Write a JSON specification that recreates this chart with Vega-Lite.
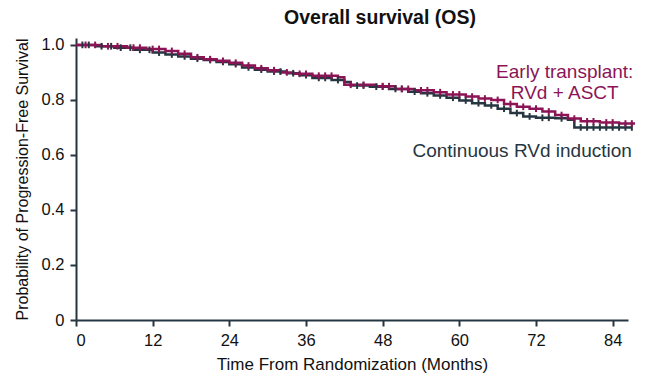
{
  "$schema": "https://vega.github.io/schema/vega-lite/v6.json",
  "autosize": "none",
  "padding": {"left": 76, "top": 38, "right": 18, "bottom": 55},
  "width": 552,
  "height": 282,
  "background": "white",
  "config": {"view": {"stroke": null}, "font": "Liberation Sans"},
  "title": {"text": "Overall survival (OS)", "fontSize": 19.5, "fontWeight": "bold", "font": "Liberation Sans", "color": "#111", "anchor": "middle", "dx": 28, "offset": 8},
  "datasets": {
    "curves": [
      {"group": "Continuous RVd induction", "t": 0, "s": 1.0},
      {"group": "Continuous RVd induction", "t": 3, "s": 0.995},
      {"group": "Continuous RVd induction", "t": 6, "s": 0.99},
      {"group": "Continuous RVd induction", "t": 9, "s": 0.982},
      {"group": "Continuous RVd induction", "t": 12, "s": 0.972},
      {"group": "Continuous RVd induction", "t": 14, "s": 0.965},
      {"group": "Continuous RVd induction", "t": 16, "s": 0.958},
      {"group": "Continuous RVd induction", "t": 18, "s": 0.95},
      {"group": "Continuous RVd induction", "t": 20, "s": 0.945},
      {"group": "Continuous RVd induction", "t": 22, "s": 0.938},
      {"group": "Continuous RVd induction", "t": 24, "s": 0.93},
      {"group": "Continuous RVd induction", "t": 26, "s": 0.918},
      {"group": "Continuous RVd induction", "t": 28, "s": 0.91},
      {"group": "Continuous RVd induction", "t": 30, "s": 0.903},
      {"group": "Continuous RVd induction", "t": 33, "s": 0.897},
      {"group": "Continuous RVd induction", "t": 35, "s": 0.89},
      {"group": "Continuous RVd induction", "t": 37, "s": 0.88},
      {"group": "Continuous RVd induction", "t": 40, "s": 0.872},
      {"group": "Continuous RVd induction", "t": 42, "s": 0.865},
      {"group": "Continuous RVd induction", "t": 43, "s": 0.852},
      {"group": "Continuous RVd induction", "t": 46, "s": 0.848},
      {"group": "Continuous RVd induction", "t": 49, "s": 0.84},
      {"group": "Continuous RVd induction", "t": 52, "s": 0.83},
      {"group": "Continuous RVd induction", "t": 54, "s": 0.824},
      {"group": "Continuous RVd induction", "t": 56, "s": 0.816},
      {"group": "Continuous RVd induction", "t": 58, "s": 0.808},
      {"group": "Continuous RVd induction", "t": 60, "s": 0.798},
      {"group": "Continuous RVd induction", "t": 62, "s": 0.788},
      {"group": "Continuous RVd induction", "t": 64, "s": 0.78},
      {"group": "Continuous RVd induction", "t": 66, "s": 0.768},
      {"group": "Continuous RVd induction", "t": 68, "s": 0.752},
      {"group": "Continuous RVd induction", "t": 70, "s": 0.74},
      {"group": "Continuous RVd induction", "t": 72, "s": 0.735},
      {"group": "Continuous RVd induction", "t": 75, "s": 0.733},
      {"group": "Continuous RVd induction", "t": 77, "s": 0.728},
      {"group": "Continuous RVd induction", "t": 78, "s": 0.7},
      {"group": "Continuous RVd induction", "t": 87, "s": 0.7},
      {"group": "Early transplant", "t": 0, "s": 1.0},
      {"group": "Early transplant", "t": 4, "s": 0.995},
      {"group": "Early transplant", "t": 8, "s": 0.99},
      {"group": "Early transplant", "t": 11, "s": 0.985},
      {"group": "Early transplant", "t": 14, "s": 0.978},
      {"group": "Early transplant", "t": 16, "s": 0.968},
      {"group": "Early transplant", "t": 18, "s": 0.955},
      {"group": "Early transplant", "t": 20, "s": 0.948},
      {"group": "Early transplant", "t": 22, "s": 0.942},
      {"group": "Early transplant", "t": 24, "s": 0.935},
      {"group": "Early transplant", "t": 26, "s": 0.925},
      {"group": "Early transplant", "t": 28, "s": 0.915},
      {"group": "Early transplant", "t": 30, "s": 0.908},
      {"group": "Early transplant", "t": 32, "s": 0.9},
      {"group": "Early transplant", "t": 34, "s": 0.895},
      {"group": "Early transplant", "t": 37, "s": 0.888},
      {"group": "Early transplant", "t": 41, "s": 0.882},
      {"group": "Early transplant", "t": 42, "s": 0.855},
      {"group": "Early transplant", "t": 47, "s": 0.85},
      {"group": "Early transplant", "t": 50, "s": 0.84},
      {"group": "Early transplant", "t": 53, "s": 0.835},
      {"group": "Early transplant", "t": 56, "s": 0.828},
      {"group": "Early transplant", "t": 58, "s": 0.82},
      {"group": "Early transplant", "t": 61, "s": 0.812},
      {"group": "Early transplant", "t": 63, "s": 0.805},
      {"group": "Early transplant", "t": 65, "s": 0.8},
      {"group": "Early transplant", "t": 67, "s": 0.785},
      {"group": "Early transplant", "t": 69, "s": 0.775},
      {"group": "Early transplant", "t": 71, "s": 0.768},
      {"group": "Early transplant", "t": 73, "s": 0.758},
      {"group": "Early transplant", "t": 75, "s": 0.745},
      {"group": "Early transplant", "t": 77, "s": 0.732},
      {"group": "Early transplant", "t": 79, "s": 0.722},
      {"group": "Early transplant", "t": 82, "s": 0.718},
      {"group": "Early transplant", "t": 85, "s": 0.714},
      {"group": "Early transplant", "t": 87.5, "s": 0.714}
    ],
    "censors": [
      {"group": "Continuous RVd induction", "t": 1, "s": 1.0},
      {"group": "Continuous RVd induction", "t": 2, "s": 1.0},
      {"group": "Continuous RVd induction", "t": 4, "s": 0.995},
      {"group": "Continuous RVd induction", "t": 5.5, "s": 0.995},
      {"group": "Continuous RVd induction", "t": 7, "s": 0.99},
      {"group": "Continuous RVd induction", "t": 8.5, "s": 0.99},
      {"group": "Continuous RVd induction", "t": 10, "s": 0.982},
      {"group": "Continuous RVd induction", "t": 11.5, "s": 0.982},
      {"group": "Continuous RVd induction", "t": 13, "s": 0.972},
      {"group": "Continuous RVd induction", "t": 15, "s": 0.965},
      {"group": "Continuous RVd induction", "t": 17, "s": 0.958},
      {"group": "Continuous RVd induction", "t": 19, "s": 0.95},
      {"group": "Continuous RVd induction", "t": 21, "s": 0.945},
      {"group": "Continuous RVd induction", "t": 23, "s": 0.938},
      {"group": "Continuous RVd induction", "t": 25, "s": 0.93},
      {"group": "Continuous RVd induction", "t": 27, "s": 0.918},
      {"group": "Continuous RVd induction", "t": 29, "s": 0.91},
      {"group": "Continuous RVd induction", "t": 31, "s": 0.903},
      {"group": "Continuous RVd induction", "t": 32, "s": 0.903},
      {"group": "Continuous RVd induction", "t": 34, "s": 0.897},
      {"group": "Continuous RVd induction", "t": 36, "s": 0.89},
      {"group": "Continuous RVd induction", "t": 38, "s": 0.88},
      {"group": "Continuous RVd induction", "t": 39, "s": 0.88},
      {"group": "Continuous RVd induction", "t": 41, "s": 0.872},
      {"group": "Continuous RVd induction", "t": 44, "s": 0.852},
      {"group": "Continuous RVd induction", "t": 45, "s": 0.852},
      {"group": "Continuous RVd induction", "t": 47, "s": 0.848},
      {"group": "Continuous RVd induction", "t": 48, "s": 0.848},
      {"group": "Continuous RVd induction", "t": 50, "s": 0.84},
      {"group": "Continuous RVd induction", "t": 51, "s": 0.84},
      {"group": "Continuous RVd induction", "t": 53, "s": 0.83},
      {"group": "Continuous RVd induction", "t": 55, "s": 0.824},
      {"group": "Continuous RVd induction", "t": 57, "s": 0.816},
      {"group": "Continuous RVd induction", "t": 59, "s": 0.808},
      {"group": "Continuous RVd induction", "t": 61, "s": 0.798},
      {"group": "Continuous RVd induction", "t": 63, "s": 0.788},
      {"group": "Continuous RVd induction", "t": 65, "s": 0.78},
      {"group": "Continuous RVd induction", "t": 67, "s": 0.768},
      {"group": "Continuous RVd induction", "t": 69, "s": 0.752},
      {"group": "Continuous RVd induction", "t": 71, "s": 0.74},
      {"group": "Continuous RVd induction", "t": 73, "s": 0.735},
      {"group": "Continuous RVd induction", "t": 74, "s": 0.735},
      {"group": "Continuous RVd induction", "t": 76, "s": 0.733},
      {"group": "Continuous RVd induction", "t": 79, "s": 0.7},
      {"group": "Continuous RVd induction", "t": 80, "s": 0.7},
      {"group": "Continuous RVd induction", "t": 81, "s": 0.7},
      {"group": "Continuous RVd induction", "t": 82, "s": 0.7},
      {"group": "Continuous RVd induction", "t": 83, "s": 0.7},
      {"group": "Continuous RVd induction", "t": 84, "s": 0.7},
      {"group": "Continuous RVd induction", "t": 85, "s": 0.7},
      {"group": "Continuous RVd induction", "t": 86, "s": 0.7},
      {"group": "Continuous RVd induction", "t": 87, "s": 0.7},
      {"group": "Early transplant", "t": 1.5, "s": 1.0},
      {"group": "Early transplant", "t": 3, "s": 1.0},
      {"group": "Early transplant", "t": 5, "s": 0.995},
      {"group": "Early transplant", "t": 6.5, "s": 0.995},
      {"group": "Early transplant", "t": 9, "s": 0.99},
      {"group": "Early transplant", "t": 10, "s": 0.99},
      {"group": "Early transplant", "t": 12, "s": 0.985},
      {"group": "Early transplant", "t": 13, "s": 0.985},
      {"group": "Early transplant", "t": 15, "s": 0.978},
      {"group": "Early transplant", "t": 17, "s": 0.968},
      {"group": "Early transplant", "t": 19, "s": 0.955},
      {"group": "Early transplant", "t": 21, "s": 0.948},
      {"group": "Early transplant", "t": 23, "s": 0.942},
      {"group": "Early transplant", "t": 25, "s": 0.935},
      {"group": "Early transplant", "t": 27, "s": 0.925},
      {"group": "Early transplant", "t": 29, "s": 0.915},
      {"group": "Early transplant", "t": 31, "s": 0.908},
      {"group": "Early transplant", "t": 33, "s": 0.9},
      {"group": "Early transplant", "t": 35, "s": 0.895},
      {"group": "Early transplant", "t": 36, "s": 0.895},
      {"group": "Early transplant", "t": 38, "s": 0.888},
      {"group": "Early transplant", "t": 39, "s": 0.888},
      {"group": "Early transplant", "t": 40, "s": 0.888},
      {"group": "Early transplant", "t": 43, "s": 0.855},
      {"group": "Early transplant", "t": 45, "s": 0.855},
      {"group": "Early transplant", "t": 48, "s": 0.85},
      {"group": "Early transplant", "t": 49, "s": 0.85},
      {"group": "Early transplant", "t": 51, "s": 0.84},
      {"group": "Early transplant", "t": 52, "s": 0.84},
      {"group": "Early transplant", "t": 54, "s": 0.835},
      {"group": "Early transplant", "t": 55, "s": 0.835},
      {"group": "Early transplant", "t": 57, "s": 0.828},
      {"group": "Early transplant", "t": 59, "s": 0.82},
      {"group": "Early transplant", "t": 60, "s": 0.82},
      {"group": "Early transplant", "t": 62, "s": 0.812},
      {"group": "Early transplant", "t": 64, "s": 0.805},
      {"group": "Early transplant", "t": 66, "s": 0.8},
      {"group": "Early transplant", "t": 68, "s": 0.785},
      {"group": "Early transplant", "t": 70, "s": 0.775},
      {"group": "Early transplant", "t": 72, "s": 0.768},
      {"group": "Early transplant", "t": 74, "s": 0.758},
      {"group": "Early transplant", "t": 76, "s": 0.745},
      {"group": "Early transplant", "t": 78, "s": 0.732},
      {"group": "Early transplant", "t": 80, "s": 0.722},
      {"group": "Early transplant", "t": 81, "s": 0.722},
      {"group": "Early transplant", "t": 83, "s": 0.718},
      {"group": "Early transplant", "t": 84, "s": 0.718},
      {"group": "Early transplant", "t": 86, "s": 0.714},
      {"group": "Early transplant", "t": 87, "s": 0.714}
    ],
    "labelsE": [
      {"label": "Early transplant:", "t": 76.5, "s": 0.902, "group": "Early transplant"},
      {"label": "RVd + ASCT", "t": 76.5, "s": 0.825, "group": "Early transplant"}
    ],
    "labelsC": [
      {"label": "Continuous RVd induction", "t": 87, "s": 0.615, "group": "Continuous RVd induction"}
    ]
  },
  "layer": [
    {
      "data": {"name": "curves"},
      "mark": {"type": "line", "interpolate": "step-after", "strokeWidth": 2.5, "clip": false},
      "encoding": {
        "x": {"field": "t", "type": "quantitative",
          "scale": {"domain": [0, 86.4], "nice": false, "zero": false},
          "axis": {"values": [0, 12, 24, 36, 48, 60, 72, 84], "title": "Time From Randomization (Months)",
            "grid": false, "domainColor": "#263641", "domainWidth": 2, "tickColor": "#263641", "tickWidth": 2, "tickSize": 6,
            "labelFontSize": 16.5, "labelColor": "#111", "labelPadding": 6, "titleFontSize": 17, "titleFontWeight": "normal", "titleColor": "#111", "titlePadding": 8, "labelFont": "Liberation Sans", "titleFont": "Liberation Sans"}},
        "y": {"field": "s", "type": "quantitative",
          "scale": {"domain": [0, 1.025], "nice": false},
          "axis": {"values": [0, 0.2, 0.4, 0.6, 0.8, 1.0], "labelExpr": "datum.value == 0 ? '0' : format(datum.value, '.1f')",
            "title": "Probability of Progression-Free Survival",
            "grid": false, "domainColor": "#263641", "domainWidth": 2, "tickColor": "#263641", "tickWidth": 2, "tickSize": 6,
            "labelFontSize": 16.5, "labelColor": "#111", "labelPadding": 6, "titleFontSize": 16, "titleFontWeight": "normal", "titleColor": "#111", "titlePadding": 11, "labelFont": "Liberation Sans", "titleFont": "Liberation Sans"}},
        "color": {"field": "group", "type": "nominal", "legend": null,
          "scale": {"domain": ["Early transplant", "Continuous RVd induction"], "range": ["#8c1456", "#263641"]}},
        "order": {"field": "t", "type": "quantitative"}
      }
    },
    {
      "data": {"name": "censors"},
      "mark": {"type": "point", "shape": "M0,-1L0,1", "filled": false, "size": 45, "strokeWidth": 2, "opacity": 1, "clip": false},
      "encoding": {
        "x": {"field": "t", "type": "quantitative"},
        "y": {"field": "s", "type": "quantitative"},
        "color": {"field": "group", "type": "nominal", "legend": null}
      }
    },
    {
      "data": {"name": "labelsE"},
      "mark": {"type": "text", "fontSize": 19, "font": "Liberation Sans", "baseline": "middle", "align": "center"},
      "encoding": {
        "x": {"field": "t", "type": "quantitative"},
        "y": {"field": "s", "type": "quantitative"},
        "text": {"field": "label"},
        "color": {"field": "group", "type": "nominal", "legend": null}
      }
    },
    {
      "data": {"name": "labelsC"},
      "mark": {"type": "text", "fontSize": 19, "font": "Liberation Sans", "baseline": "middle", "align": "right"},
      "encoding": {
        "x": {"field": "t", "type": "quantitative"},
        "y": {"field": "s", "type": "quantitative"},
        "text": {"field": "label"},
        "color": {"field": "group", "type": "nominal", "legend": null}
      }
    }
  ]
}
